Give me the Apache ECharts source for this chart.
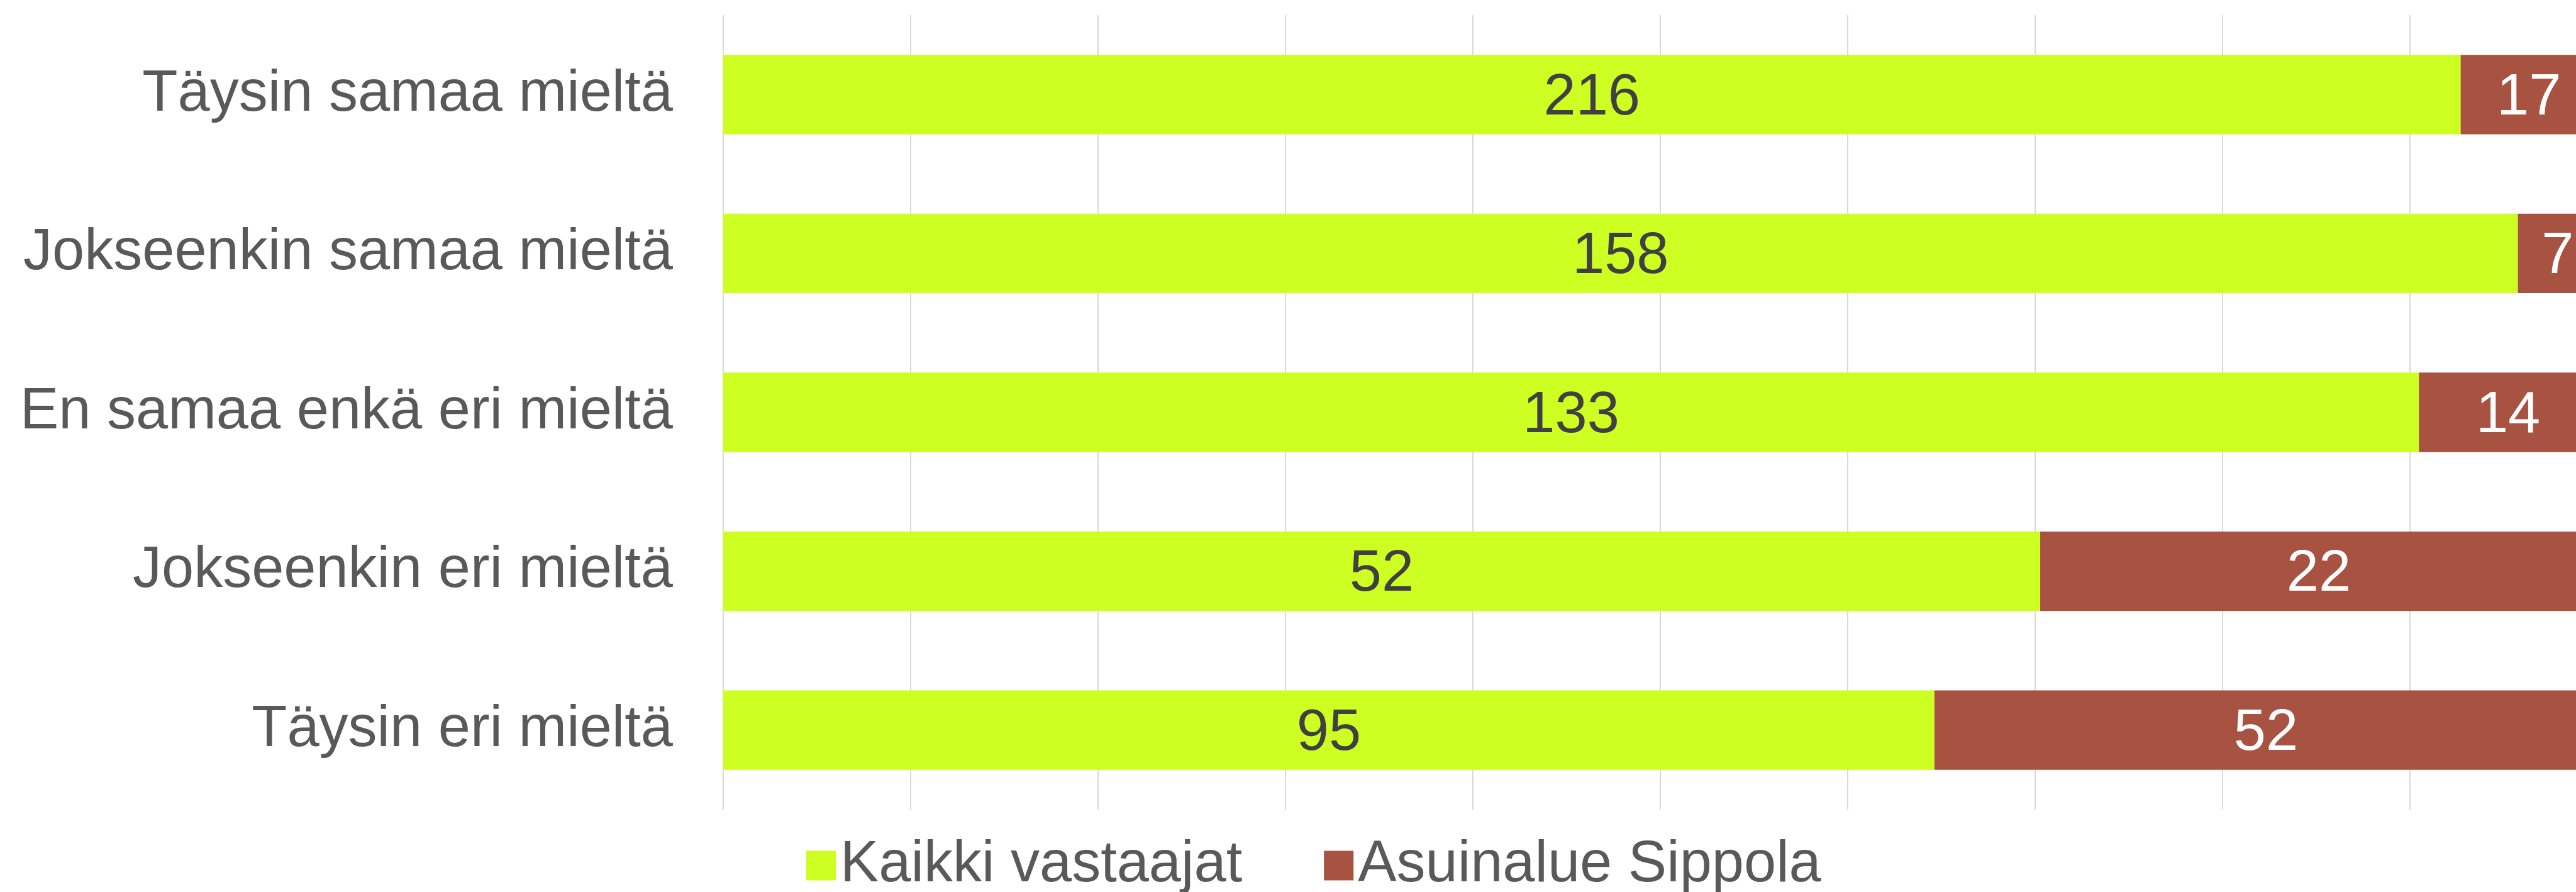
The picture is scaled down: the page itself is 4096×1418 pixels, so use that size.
<!DOCTYPE html>
<html>
<head>
<meta charset="utf-8">
<script src="https://cdn.jsdelivr.net/npm/echarts@6/dist/echarts.min.js"></script>
<style>
  html, body { margin: 0; padding: 0; background: #ffffff; }
  #chart { width: 4096px; height: 1418px; }
</style>
</head>
<body>
<div id="chart"></div>
<script>
// vastausvaihtoehdot ylhäältä alas
var categories = ['Täysin samaa mieltä', 'Jokseenkin samaa mieltä', 'En samaa enkä eri mieltä', 'Jokseenkin eri mieltä', 'Täysin eri mieltä'];
var seriesNames = ['Kaikki vastaajat', 'Asuinalue Sippola'];
// vastaajamäärät
var kaikki = [216, 158, 133, 52, 95];
var sippola = [17, 7, 14, 22, 52];

// 100 % pinottu: osuudet riveittäin
function share(arr, i) {
    var total = kaikki[i] + sippola[i];
    return arr[i] / total * 100;
}
var kaikkiPct = kaikki.map(function (v, i) { return share(kaikki, i); });
var sippolaPct = sippola.map(function (v, i) { return share(sippola, i); });

var FONT = '"Liberation Sans", Arial, sans-serif';

// kuva on rajattu: 100 % osuisi noin 34 px oikean reunan ulkopuolelle
var gridLeft = 1150;
var fullWidth = 2980;
var visibleMax = 100 * (4096 - gridLeft) / fullWidth;

var myChart = echarts.init(document.getElementById('chart'));
var option = {
    animation: false,
    backgroundColor: '#ffffff',
    grid: {
        left: gridLeft,
        right: 0,
        top: 24,
        bottom: 131,
        containLabel: false
    },
    legend: {
        left: 1277,
        top: 1325,
        itemWidth: 47,
        itemHeight: 47,
        itemGap: 130,
        icon: 'rect',
        textStyle: {
            fontFamily: FONT,
            fontSize: 92,
            color: '#595959',
            padding: [8, 0, 0, 2]
        },
        data: seriesNames
    },
    xAxis: {
        type: 'value',
        min: 0,
        max: visibleMax,
        interval: 10,
        axisLabel: { show: false },
        axisLine: { show: false },
        axisTick: { show: false },
        splitLine: {
            show: true,
            showMaxLine: false,
            lineStyle: { color: '#d9d9d9', width: 2 }
        }
    },
    yAxis: {
        type: 'category',
        inverse: true,
        data: categories,
        axisLine: { show: false },
        axisTick: { show: false },
        axisLabel: {
            margin: 80,
            padding: [10, 0, 0, 0],
            fontFamily: FONT,
            fontSize: 92,
            color: '#595959'
        }
    },
    series: [
        {
            name: seriesNames[0],
            type: 'bar',
            stack: 'yht',
            barCategoryGap: '50%',
            itemStyle: { color: '#cdff22' },
            label: {
                show: true,
                position: 'inside',
                offset: [0, 6],
                fontFamily: FONT,
                fontSize: 92,
                color: '#404040',
                formatter: function (p) { return kaikki[p.dataIndex]; }
            },
            data: kaikkiPct
        },
        {
            name: seriesNames[1],
            type: 'bar',
            stack: 'yht',
            barCategoryGap: '50%',
            clip: false,
            itemStyle: { color: '#a85242' },
            label: {
                show: true,
                position: 'inside',
                offset: [0, 6],
                fontFamily: FONT,
                fontSize: 92,
                color: '#ffffff',
                formatter: function (p) { return sippola[p.dataIndex]; }
            },
            data: sippolaPct
        }
    ]
};
myChart.setOption(option);
</script>
</body>
</html>
